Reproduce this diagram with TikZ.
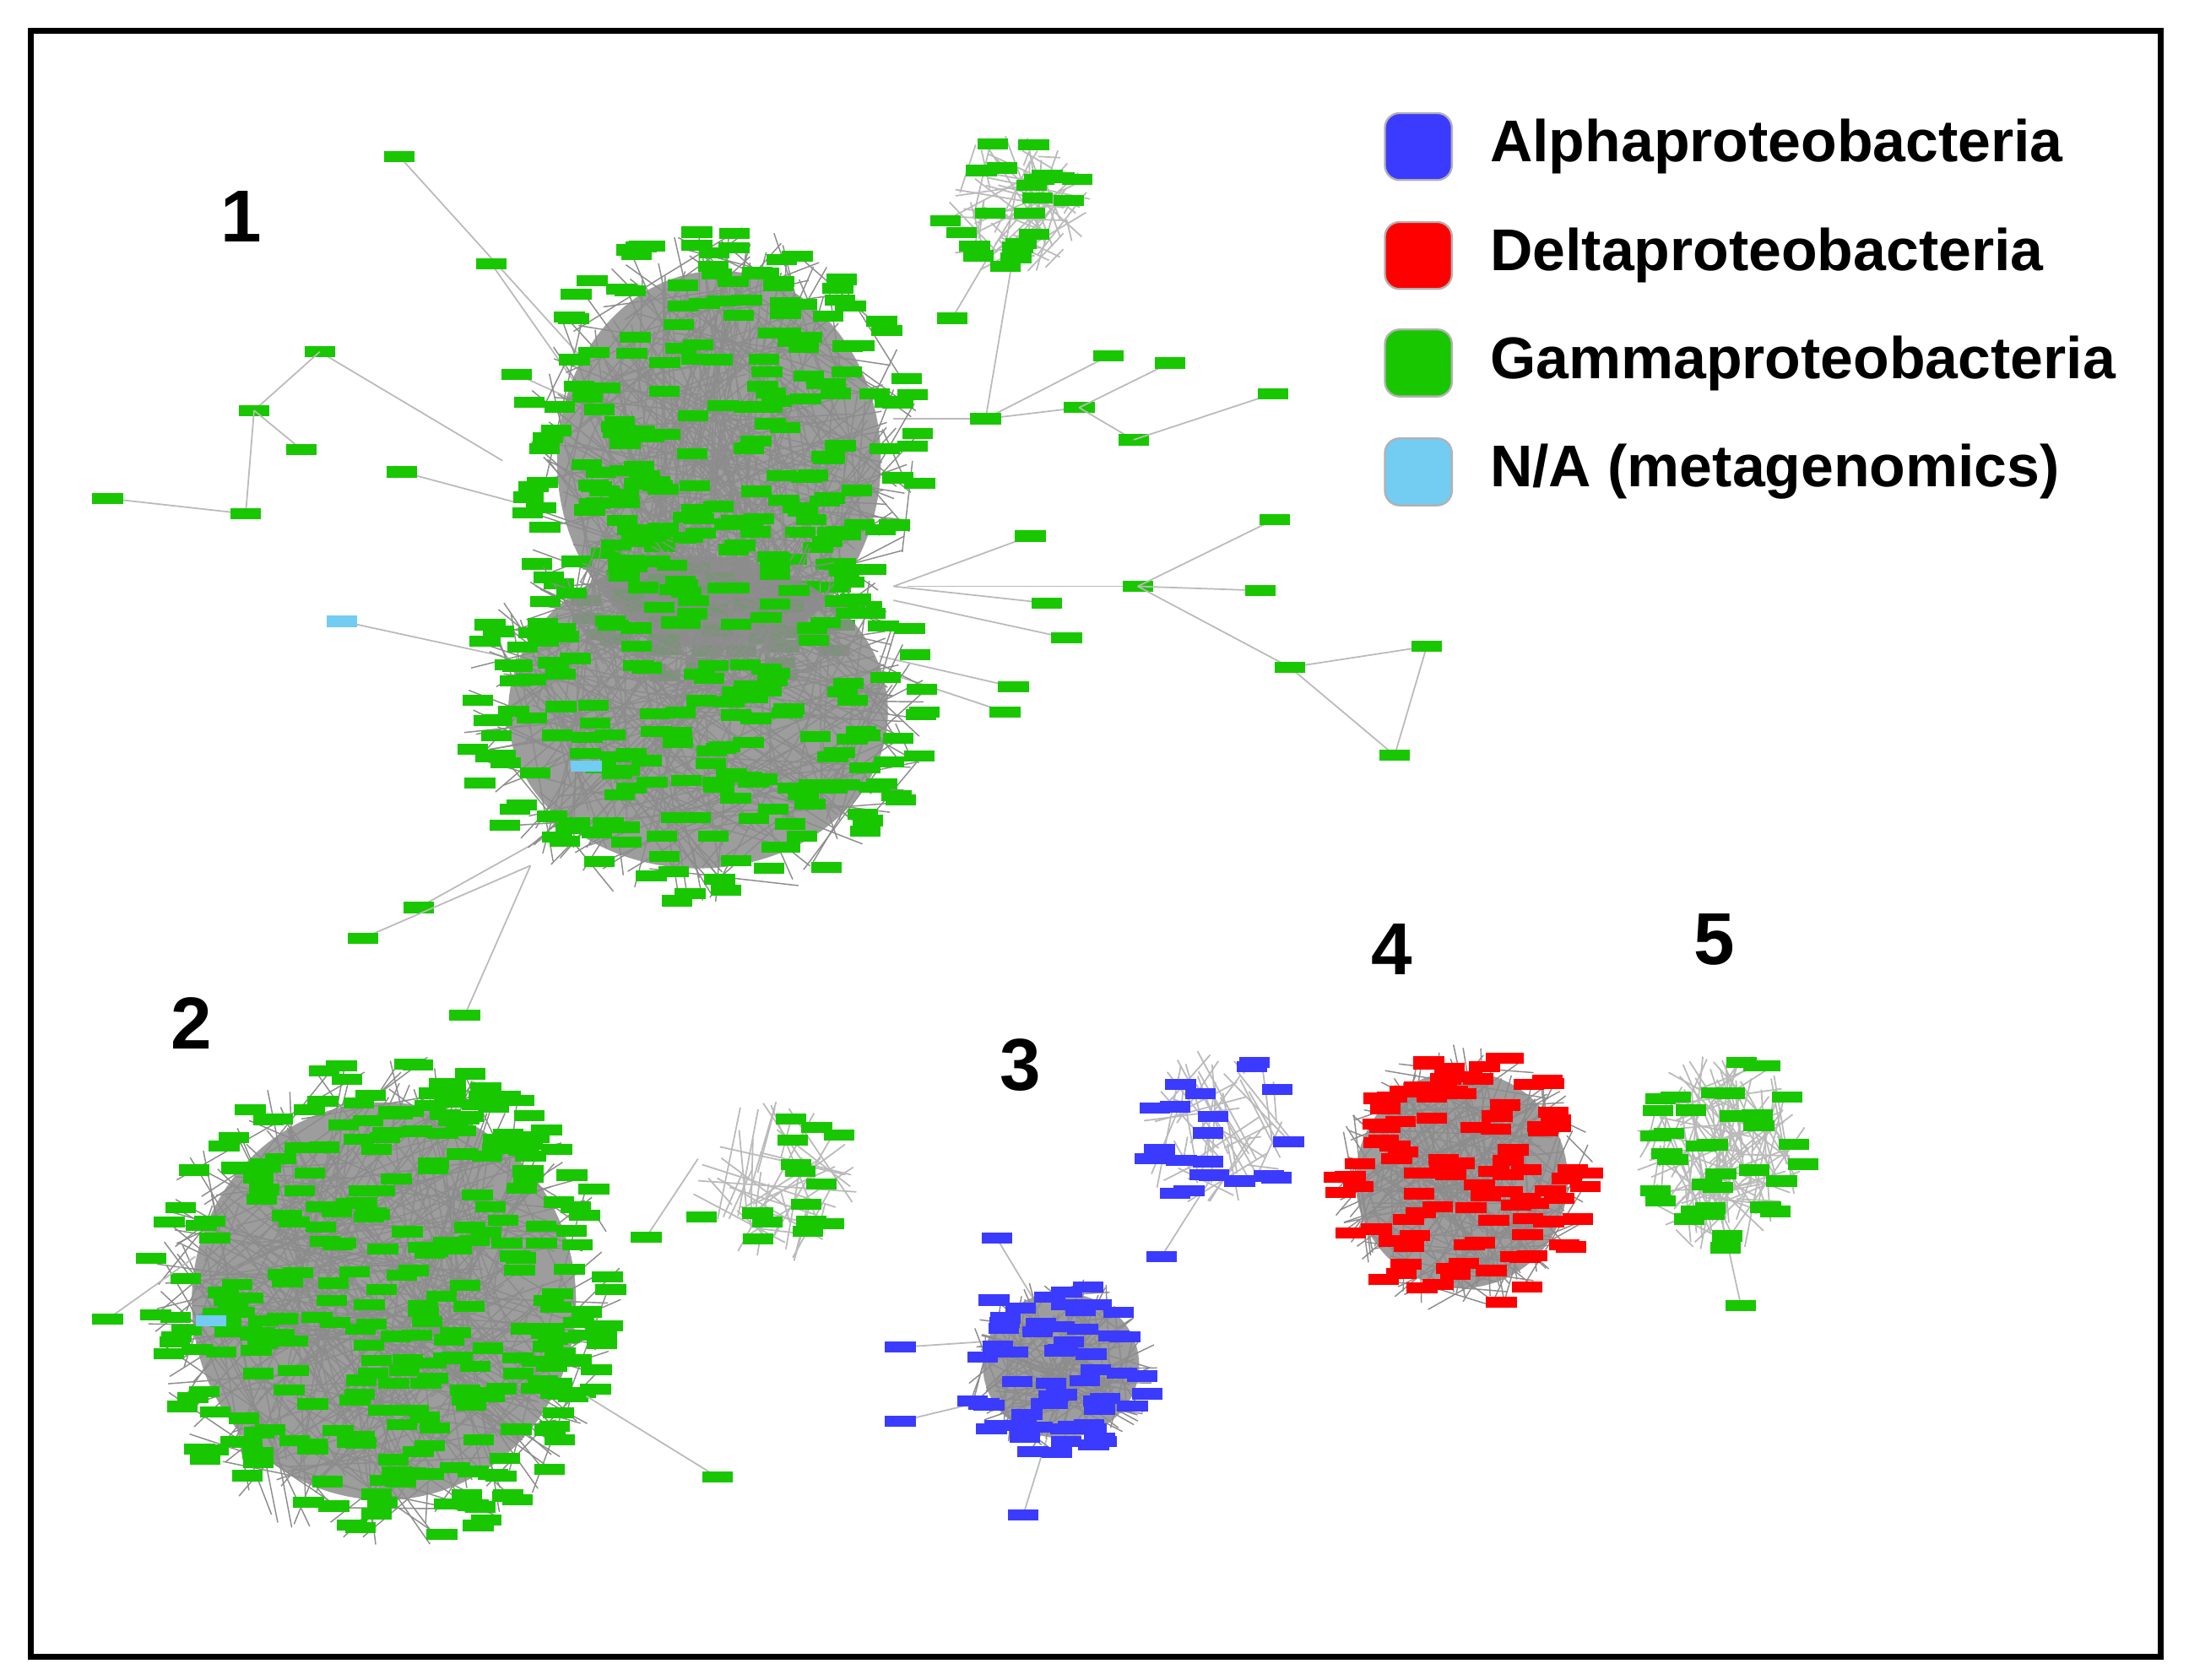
\documentclass[tikz,border=0pt]{standalone}
\usepackage{fontspec}
\setmainfont{Liberation Sans}
\usepackage{xcolor}
\definecolor{gamma}{rgb}{0.1,0.78,0.0}
\definecolor{alpha}{rgb}{0.23,0.23,1.0}
\definecolor{delta}{rgb}{1.0,0.0,0.0}
\definecolor{meta}{rgb}{0.45,0.8,0.95}
\definecolor{edgegray}{rgb}{0.55,0.55,0.55}
\tikzset{
  edge/.style={edgegray!60, line width=0.3pt},
  dense/.style={edgegray, line width=0.25pt},
  legendbox/.style={rounded corners=3pt, draw=gray!60},
  legendtext/.style={anchor=west, font=\fontsize{12}{14}\selectfont\bfseries},
  clusterlabel/.style={font=\fontsize{15}{17}\selectfont\bfseries},
}
% cx cy rx ry nodes edges colour
\newcommand\netblob[7]{%
  \fill[edgegray,opacity=.85] (#1,#2) ellipse ({#3*0.8} and {#4*0.8});
  \foreach \i in {1,...,#6}{
    \pgfmathsetmacro\aa{360*rnd}\pgfmathsetmacro\ab{360*rnd}
    \pgfmathsetmacro\ra{sqrt(rnd)}\pgfmathsetmacro\rb{sqrt(rnd)}
    \draw[dense] ({#1+#3*\ra*cos(\aa)},{#2+#4*\ra*sin(\aa)}) -- ({#1+#3*\rb*cos(\ab)},{#2+#4*\rb*sin(\ab)});
  }
  \foreach \i in {1,...,#5}{
    \pgfmathsetmacro\aa{360*rnd}\pgfmathsetmacro\ra{sqrt(rnd)}
    \fill[#7] ({#1+#3*\ra*cos(\aa)-11},{#2+#4*\ra*sin(\aa)-4}) rectangle +(22,8);
  }
}
% sparse cluster: lines only, no fill
\newcommand\netloose[7]{%
  \foreach \i in {1,...,#6}{
    \pgfmathsetmacro\aa{360*rnd}\pgfmathsetmacro\ab{360*rnd}
    \pgfmathsetmacro\ra{sqrt(rnd)}\pgfmathsetmacro\rb{sqrt(rnd)}
    \draw[edge] ({#1+#3*\ra*cos(\aa)},{#2+#4*\ra*sin(\aa)}) -- ({#1+#3*\rb*cos(\ab)},{#2+#4*\rb*sin(\ab)});
  }
  \foreach \i in {1,...,#5}{
    \pgfmathsetmacro\aa{360*rnd}\pgfmathsetmacro\ra{sqrt(rnd)}
    \fill[#7] ({#1+#3*\ra*cos(\aa)-11},{#2+#4*\ra*sin(\aa)-4}) rectangle +(22,8);
  }
}
\begin{document}
\begin{tikzpicture}[x=0.01cm,y=-0.01cm]
\pgfmathsetseed{11}
\useasboundingbox (0,0) rectangle (1568,1203);
\fill[white] (0,0) rectangle (1568,1203);

%%%%%%%%%%%%%%%%%%%%%%%%%%%%%% satellites of cluster 1
\foreach \px/\py/\hx/\hy in {286/112/420/260, 352/189/430/300, 229/252/360/330, 182/294/229/252,
  216/322/182/294, 77/357/176/368, 176/368/182/294, 288/338/370/360, 370/268/440/300,
  738/384/640/420, 750/432/640/420, 815/420/650/420, 903/423/815/420, 913/372/815/420,
  764/457/640/430, 726/492/630/470, 720/510/630/480, 924/478/1022/463, 1022/463/999/541,
  999/541/924/478, 924/478/815/420, 706/300/640/300, 773/292/706/300, 812/315/773/292,
  838/260/773/292, 794/255/706/300, 912/282/812/315, 682/228/728/150, 706/300/728/170,
  333/727/380/620, 300/650/390/600, 260/672/380/620}{
  \draw[edge] (\px,\py) -- (\hx,\hy);
  \fill[gamma] (\px-11,\py-4) rectangle +(22,8);
}
\draw[edge] (245,445) -- (360,470);
\fill[meta] (234,441) rectangle +(22,8);

%%%%%%%%%%%%%%%%%%%%%%%%%%%%%% cluster 1
\netblob{515}{330}{145}{170}{220}{300}{gamma}
\netblob{500}{510}{170}{140}{200}{250}{gamma}
\fill[meta] (409,545) rectangle +(22,8);
\netloose{728}{150}{55}{55}{22}{60}{gamma}

%%%%%%%%%%%%%%%%%%%%%%%%%%%%%% cluster 2
\netblob{275}{932}{172}{178}{300}{300}{gamma}
\fill[meta] (140,942) rectangle +(22,8);
\netloose{555}{845}{60}{60}{15}{40}{gamma}
\foreach \px/\py/\hx/\hy in {514/1058/420/1000, 463/886/500/830, 77/945/140/900}{
  \draw[edge] (\px,\py) -- (\hx,\hy);
  \fill[gamma] (\px-11,\py-4) rectangle +(22,8);
}

%%%%%%%%%%%%%%%%%%%%%%%%%%%%%% cluster 3
\foreach \px/\py/\hx/\hy in {645/965/720/960, 645/1018/720/1000, 733/1085/750/1030,
  714/887/740/930, 832/900/870/840}{
  \draw[edge] (\px,\py) -- (\hx,\hy);
  \fill[alpha] (\px-11,\py-4) rectangle +(22,8);
}
\netblob{760}{978}{70}{65}{60}{120}{alpha}
\netloose{870}{812}{55}{62}{22}{50}{alpha}

%%%%%%%%%%%%%%%%%%%%%%%%%%%%%% cluster 4 and 5
\netblob{1047}{845}{95}{97}{100}{180}{delta}
\draw[edge] (1247,935) -- (1235,880);
\fill[gamma] (1236,931) rectangle +(22,8);
\netloose{1233}{825}{62}{72}{36}{110}{gamma}

%%%%%%%%%%%%%%%%%%%%%%%%%%%%%% labels
\node[clusterlabel] at (173,155) {1};
\node[clusterlabel] at (137,733) {2};
\node[clusterlabel] at (731,763) {3};
\node[clusterlabel] at (997,680) {4};
\node[clusterlabel] at (1228,673) {5};

%%%%%%%%%%%%%%%%%%%%%%%%%%%%%% legend
\foreach \y/\c/\t in {105/alpha/Alphaproteobacteria, 183/delta/Deltaproteobacteria,
  260/gamma/Gammaproteobacteria, 338/meta/{N/A (metagenomics)}}{
  \fill[\c,legendbox] (992,\y-24) rectangle +(48,48);
  \node[legendtext] at (1055,\y) {\t};
}

\draw[line width=1.2pt] (22,22) rectangle (1548,1187);
\end{tikzpicture}
\end{document}
